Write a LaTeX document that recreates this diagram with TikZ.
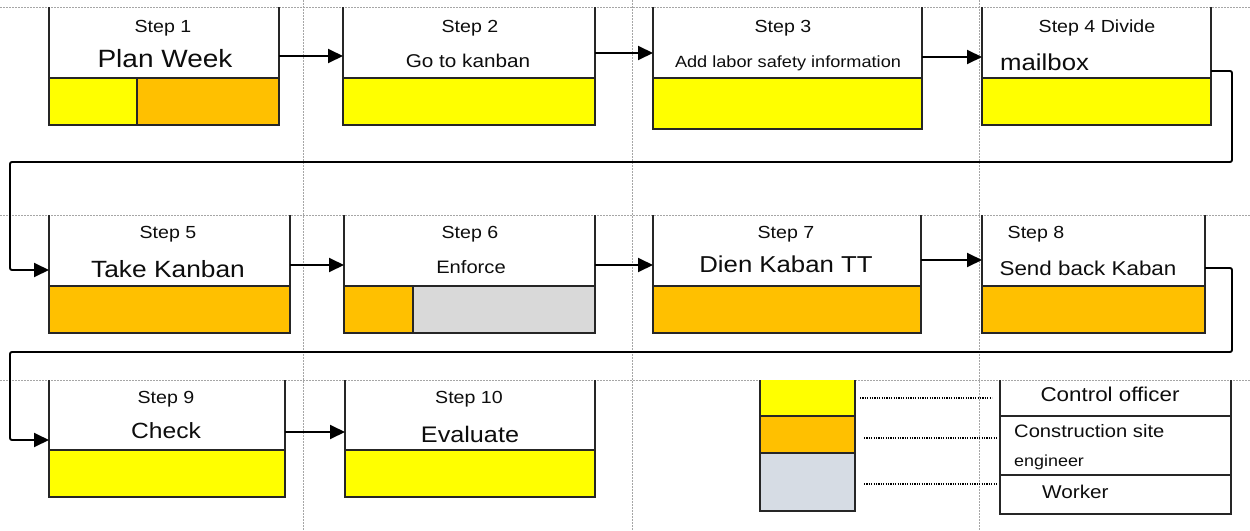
\documentclass[tikz,border=0pt]{standalone}
\usepackage{fontspec}
\setmainfont[FakeStretch=1.12]{Liberation Sans}
\usetikzlibrary{arrows.meta,fit}
\definecolor{kyellow}{HTML}{FFFF00}
\definecolor{korange}{HTML}{FFC000}
\definecolor{kgray}{HTML}{D9D9D9}
\definecolor{klgray}{HTML}{D6DCE4}
\definecolor{kgrid}{HTML}{A6A6A6}
\definecolor{ktext}{HTML}{0D0D0D}
\newcommand\fsz[1]{\fontsize{#1}{#1}\selectfont}
\newcommand\mkbox[6]{%
  \node[fit={(#2,#4) (#3,#6)}, inner sep=0pt, outer sep=0pt] (#1) {};
  \draw[boxline] (#2,#4) -- (#2,#6) -- (#3,#6) -- (#3,#4);
  \draw[boxline] (#2,#5) -- (#3,#5);
}
\begin{document}
\begin{tikzpicture}[x=1pt,y=-1pt,
  gridline/.style={kgrid, line width=0.8pt, dash pattern=on 1.5pt off 1.5pt},
  boxline/.style={draw=black!85, line width=1.3pt},
  flow/.style={black, line width=1.9pt, rounded corners=2pt, -{Triangle[length=15pt,width=14pt]}},
  legdot/.style={black, line width=1.3pt, dash pattern=on 1.2pt off 1.2pt},
  steplbl/.style={anchor=base, inner sep=0pt, text=ktext, font=\fsz{17.5}},
  txt/.style={anchor=base, inner sep=0pt, text=ktext},
]
\useasboundingbox (0,0) rectangle (1250,530);
% grid
\draw[gridline] (0,7) -- (1250,7);
\draw[gridline] (0,215) -- (1250,215);
\draw[gridline] (0,380) -- (1250,380);
\draw[gridline] (303,0) -- (303,530);
\draw[gridline] (632,0) -- (632,530);
\draw[gridline] (979,0) -- (979,530);
% fills
\fill[kyellow] (49,78) rectangle (137,125);
\fill[korange] (137,78) rectangle (279,125);
\fill[kyellow] (343,78) rectangle (595,125);
\fill[kyellow] (653,78) rectangle (922,129);
\fill[kyellow] (982,78) rectangle (1211,125);
\fill[korange] (49,286) rectangle (290,333);
\fill[korange] (344,286) rectangle (413,333);
\fill[kgray] (413,286) rectangle (595,333);
\fill[korange] (653,286) rectangle (921,333);
\fill[korange] (982,286) rectangle (1205,333);
\fill[kyellow] (49,450) rectangle (285,497);
\fill[kyellow] (345,450) rectangle (595,497);
% boxes
\mkbox{s1}{49}{279}{7}{78}{125}
\draw[boxline] (137,78) -- (137,125);
\mkbox{s2}{343}{595}{7}{78}{125}
\mkbox{s3}{653}{922}{7}{78}{129}
\mkbox{s4}{982}{1211}{7}{78}{125}
\mkbox{s5}{49}{290}{215}{286}{333}
\mkbox{s6}{344}{595}{215}{286}{333}
\draw[boxline] (413,286) -- (413,333);
\mkbox{s7}{653}{921}{215}{286}{333}
\mkbox{s8}{982}{1205}{215}{286}{333}
\mkbox{s9}{49}{285}{380}{450}{497}
\mkbox{s10}{345}{595}{380}{450}{497}
% texts
\node[steplbl] (t1) at (163,32) {Step 1};
\node[txt, font=\fsz{25}] (u1) at (165,67) {Plan Week};
\node[steplbl] (t2) at (470,32) {Step 2};
\node[txt, font=\fsz{18.5}] (u2) at (468,67) {Go to kanban};
\node[steplbl] (t3) at (783,32) {Step 3};
\node[txt, font=\fsz{16.2}] (u3) at (788,67) {Add labor safety information};
\node[steplbl] (t4) at (1097,32) {Step 4 Divide};
\node[txt, anchor=base west, font=\fsz{23}] (u4) at (1000,70) {mailbox};
\node[steplbl] (t5) at (168,238) {Step 5};
\node[txt, font=\fsz{23.5}] (u5) at (168,277) {Take Kanban};
\node[steplbl] (t6) at (470,238) {Step 6};
\node[txt, font=\fsz{18}] (u6) at (471,273) {Enforce};
\node[steplbl] (t7) at (786,238) {Step 7};
\node[txt, font=\fsz{23}] (u7) at (786,272) {Dien Kaban TT};
\node[steplbl] (t8) at (1036,238) {Step 8};
\node[txt, font=\fsz{20}] (u8) at (1088,275) {Send back Kaban};
\node[steplbl] (t9) at (166,403) {Step 9};
\node[txt, font=\fsz{22}] (u9) at (166,438) {Check};
\node[steplbl] (t10) at (469,403) {Step 10};
\node[txt, font=\fsz{22.5}] (u10) at (470,442) {Evaluate};
% connectors
\coordinate (r1) at (1232,162);
\coordinate (l1) at (10,162);
\coordinate (r2) at (1232,352);
\coordinate (l2) at (10,352);
\draw[flow] ([yshift=-49pt]s1.north east) -- ([yshift=-49pt]s1.north east -| s2.west);
\draw[flow] ([yshift=-46pt]s2.north east) -- ([yshift=-46pt]s2.north east -| s3.west);
\draw[flow] ([yshift=-50pt]s3.north east) -- ([yshift=-50pt]s3.north east -| s4.west);
\draw[flow] ([yshift=-64pt]s4.north east) -| (r1) -- (l1) |- ([yshift=-55pt]s5.north west);
\draw[flow] ([yshift=-50pt]s5.north east) -- ([yshift=-50pt]s5.north east -| s6.west);
\draw[flow] ([yshift=-50pt]s6.north east) -- ([yshift=-50pt]s6.north east -| s7.west);
\draw[flow] ([yshift=-45pt]s7.north east) -- ([yshift=-45pt]s7.north east -| s8.west);
\draw[flow] ([yshift=-53pt]s8.north east) -| (r2) -- (l2) |- ([yshift=-60pt]s9.north west);
\draw[flow] ([yshift=-52pt]s9.north east) -- ([yshift=-52pt]s9.north east -| s10.west);
% legend swatches
\fill[kyellow] (760,380) rectangle (855,416);
\fill[korange] (760,416) rectangle (855,453);
\fill[klgray] (760,453) rectangle (855,511);
\node[fit={(760,380) (855,416)}, inner sep=0pt, outer sep=0pt] (sw1) {};
\node[fit={(760,416) (855,453)}, inner sep=0pt, outer sep=0pt] (sw2) {};
\node[fit={(760,453) (855,511)}, inner sep=0pt, outer sep=0pt] (sw3) {};
\draw[boxline] (760,380) -- (760,511) -- (855,511) -- (855,380);
\draw[boxline] (760,416) -- (855,416);
\draw[boxline] (760,453) -- (855,453);
% legend table
\node[fit={(1000,380) (1231,416)}, inner sep=0pt, outer sep=0pt] (c1) {};
\node[fit={(1000,416) (1231,475)}, inner sep=0pt, outer sep=0pt] (c2) {};
\node[fit={(1000,475) (1231,514)}, inner sep=0pt, outer sep=0pt] (c3) {};
\draw[boxline] (1000,380) -- (1000,514) -- (1231,514) -- (1231,380);
\draw[boxline] (1000,416) -- (1231,416);
\draw[boxline] (1000,475) -- (1231,475);
\node[txt, font=\fsz{20}] (l1t) at (1110,401) {Control officer};
\node[txt, anchor=base west, font=\fsz{18}] (l2t) at (1014,437) {Construction site};
\node[txt, anchor=base west, font=\fsz{16}] (l2u) at (1014,466) {engineer};
\node[txt, anchor=base west, font=\fsz{18.5}] (l3t) at (1042,498) {Worker};
% legend dotted leaders
\draw[legdot] ([xshift=5pt]sw1.east) -- ([xshift=-8pt]sw1.east -| c1.west);
\draw[legdot] ([xshift=9pt,yshift=-3.5pt]sw2.east) -- ([yshift=-3.5pt,xshift=-3pt]sw2.east -| c2.west);
\draw[legdot] ([xshift=9pt,yshift=-2pt]sw3.east) -- ([yshift=-2pt,xshift=-3pt]sw3.east -| c3.west);
\end{tikzpicture}
\end{document}
